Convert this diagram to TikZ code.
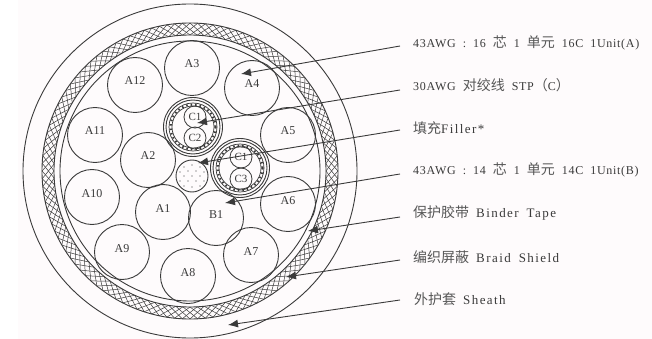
\documentclass[tikz,border=0pt]{standalone}
\usepackage{fontspec}
\setmainfont{Liberation Serif}
\newfontfamily\cjk{Noto Sans CJK SC}
\newfontfamily\spaced[LetterSpace=6]{Liberation Serif}
\newfontfamily\wider[LetterSpace=11]{Liberation Serif}
\usetikzlibrary{arrows.meta}
\definecolor{ink}{HTML}{3A3A3A}
\definecolor{paper}{HTML}{FEFBFC}
\newcommand{\zh}[1]{{\fontsize{14}{14}\cjk\color{ink!85}#1}}
\newcommand{\labfont}{\fontsize{12}{14}\spaced\spaceskip 7pt\relax}
\newcommand{\wdt}[1]{{\fontsize{13}{14}\wider\spaceskip 8pt\relax #1}}
\tikzset{
 ring/.style={draw=ink,line width=0.9pt},
 unit/.style={circle,draw=ink,line width=0.9pt,minimum size=55pt,inner sep=0pt,text height=8pt,text depth=8pt,font=\fontsize{12}{12}\selectfont,text=ink},
 pair/.style={circle,draw=ink,line width=0.8pt,minimum size=22pt,inner sep=0pt,font=\fontsize{11}{11}\selectfont,text=ink},
 lab/.style={anchor=west,inner sep=0pt,text=ink,font=\labfont},
 lead/.style={draw=ink,line width=0.9pt,-{Latex[length=10pt,width=8pt]}},
}
\begin{document}
\begin{tikzpicture}[x=1pt,y=-1pt]
\useasboundingbox (0,0) rectangle (652,339);
\fill[paper] (18,0) rectangle (652,339);
% sheath
\draw[ring] (190,171) circle (167);
% braid mesh
\foreach \a in {0,3,...,357}{
 \draw[ink,line width=0.5pt] ({190+136*cos(\a)},{171+136*sin(\a)}) -- ({190+148*cos(\a+6)},{171+148*sin(\a+6)});
 \draw[ink,line width=0.5pt] ({190+136*cos(\a)},{171+136*sin(\a)}) -- ({190+148*cos(\a-6)},{171+148*sin(\a-6)});
}
\draw[ring] (190,171) circle (148);
\draw[ring] (190,171) circle (136);
\draw[ring] (190,171) circle (130);
% units
\node[unit] (a3) at (192,68) {A3};
\node[unit] (a4) at (252,88) {A4};
\node[unit] (a5) at (288,135) {A5};
\node[unit] (a6) at (288,204) {A6};
\node[unit] (a7) at (251,255) {A7};
\node[unit] (a8) at (188,276) {A8};
\node[unit] (a9) at (122,252) {A9};
\node[unit] (a10) at (92,197) {A10};
\node[unit] (a11) at (95,135) {A11};
\node[unit] (a12) at (135,85) {A12};
\node[unit] (a1) at (163,212) {A1};
\node[unit] (a2) at (148,160) {A2};
\node[unit] (b1) at (216,218) {B1};
% filler
\node[circle,draw=ink,line width=0.9pt,minimum size=32pt,inner sep=0pt] (fill) at (192,176) {};
\foreach \dx/\dy in {-8/-9,0/-11,8/-9,-12/-4,-4/-5,4/-5,12/-4,-8/0,0/0,8/0,-12/5,-4/5,4/5,12/5,-8/10,0/11,8/10}
 \fill[ink] (192+\dx,176+\dy) circle (0.65);
% twisted pairs
\foreach \cx/\cy/\n in {193/127/p,240/168/q}{
 \draw[ring] (\cx,\cy) circle (29.5);
 \draw[ring] (\cx,\cy) circle (27);
 \draw[ring,line width=0.7pt] (\cx,\cy) circle (24);
 \draw[ink,line width=2.2pt,dash pattern=on 1.5pt off 3pt] (\cx,\cy) circle (22.5);
 \draw[ring,line width=0.7pt] (\cx,\cy) circle (21);
}
\node[pair] (c1) at (195,117) {C1};
\node[pair] (c2) at (195,138) {C2};
\node[pair] (c1b) at (241,157) {C1};
\node[pair] (c3) at (241,179) {C3};
% labels
\node[lab] (l1) at (413,43) {43AWG : 16 \zh{芯} 1 \zh{单元} 16C 1Unit(A)};
\node[lab] (l2) at (413,85) {30AWG \zh{对绞线} STP\zh{（}C\zh{）}};
\node[lab] (l3) at (413,128) {\zh{填充}\wdt{Filler*}};
\node[lab] (l4) at (413,170) {43AWG : 14 \zh{芯} 1 \zh{单元} 14C 1Unit(B)};
\node[lab] (l5) at (413,213) {\zh{保护胶带} \wdt{Binder Tape}};
\node[lab] (l6) at (413,257) {\zh{编织屏蔽} \wdt{Braid Shield}};
\node[lab] (l7) at (414,299) {\zh{外护套} \wdt{Sheath}};
% leaders
\coordinate (t1) at (241,74);
\coordinate (t2) at (197,123);
\coordinate (t3) at (198,163);
\coordinate (t4) at (225,203);
\coordinate (t5) at (308,231);
\coordinate (t6) at (286,277);
\coordinate (t7) at (228,325);
\coordinate (s1) at (400,46);
\coordinate (s2) at (400,90);
\coordinate (s3) at (400,130);
\coordinate (s4) at (400,174);
\coordinate (s5) at (400,217);
\coordinate (s6) at (400,260);
\coordinate (s7) at (400,300);
\draw[lead] (s1) -- (t1);
\draw[lead] (s2) -- (t2);
\draw[lead] (s3) -- (t3);
\draw[lead] (s4) -- (t4);
\draw[lead] (s5) -- (t5);
\draw[lead] (s6) -- (t6);
\draw[lead] (s7) -- (t7);
\end{tikzpicture}
\end{document}
